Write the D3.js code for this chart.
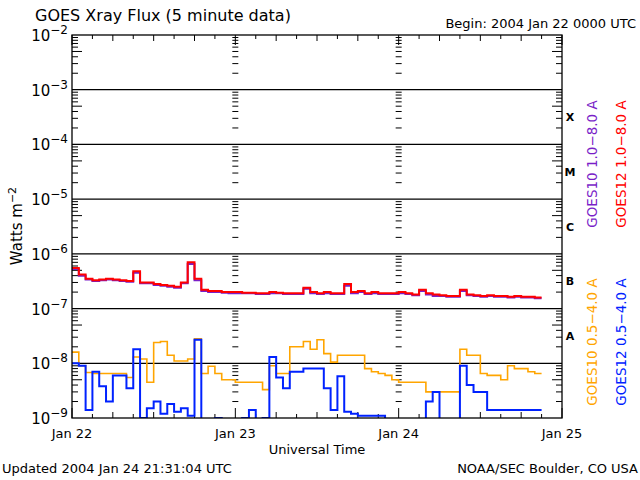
<!DOCTYPE html>
<html><head><meta charset="utf-8">
<script src="https://cdn.jsdelivr.net/npm/d3@7"></script>
<style>body{margin:0;background:#fff}text{font-family:"DejaVu Sans",sans-serif}</style>
</head><body><svg id="c" width="640" height="480"></svg>
<script>
// hours since 2004 Jan 22 00:00 UTC
const hours = d3.range(0, 70);
const goes12Long = [5.5,4.2,3.5,3.3,3.4,3.5,3.4,3.3,3.2,4.8,3.0,3.0,2.8,2.7,2.6,2.5,3.0,7.0,3.5,2.2,2.1,2.1,2.0,2.0,
 2.0,1.95,1.95,1.9,1.9,2.0,1.95,1.9,1.9,1.9,2.4,2.0,1.9,2.0,1.9,1.9,2.8,2.0,2.1,1.9,2.0,1.9,1.9,1.9,
 2.0,1.9,1.8,2.2,1.9,1.8,1.75,1.7,1.7,2.2,1.8,1.75,1.7,1.75,1.7,1.7,1.65,1.7,1.65,1.65,1.6,1.6].map(v=>v*1e-7);
const goes10Long = [5.3,4.0,3.4,3.2,3.3,3.4,3.3,3.2,3.1,4.5,2.9,2.9,2.7,2.6,2.5,2.4,2.9,6.5,3.3,2.1,2.0,2.0,1.95,1.9,
 1.9,1.9,1.9,1.85,1.85,1.9,1.9,1.85,1.85,1.85,2.3,1.9,1.85,1.9,1.85,1.85,2.6,1.9,2.0,1.85,1.9,1.85,1.85,1.85,
 1.9,1.85,1.75,2.1,1.8,1.7,1.7,1.65,1.65,2.1,1.75,1.7,1.65,1.7,1.65,1.65,1.6,1.65,1.6,1.6,1.55,1.55].map(v=>v*1e-7);
const goes10Short = [16,9,6.8,6.5,6.5,6.5,6.5,6.5,5.5,13,12,4.5,24,25,14,11,11,12,28,6.5,8.8,6.5,5,5,
 4.5,4.5,4.5,4.5,3.3,9,6.5,6.5,20,20,25,18,27,15,10.5,14,14,14,14,8,7,6.5,6,5,
 4.5,4.5,4.5,4.5,3,3,3,3,3,18,14,14,6.5,6,6,5,9,8,8,7,6.5,6.5].map(v=>v*1e-9);
const goes12Short = [10,9,1.4,7,3.8,2,6,6,3.5,18,1,1.5,2,1.2,1.8,1.3,1.5,1.1,27,0.9,0.9,1,0.9,0.9,
 0.9,1,1.4,0.9,1,13,5.5,3.5,7,7,8,8,8,3.5,1.4,5.8,1.3,1.2,1.1,1.1,1.1,1.1,0.9,0.9,
 0.9,0.9,0.9,0.9,2,3,0.9,0.9,0.9,9,4,3,3,1.4,1.4,1.4,1.4,1.4,1.4,1.4,1.4,1.4].map(v=>v*1e-9);
const decades = [-2,-3,-4,-5,-6,-7,-8,-9];
const dayLabels = ["Jan 22","Jan 23","Jan 24","Jan 25"];
const classes = ["X","M","C","B","A"];

const svg = d3.select("#c");
const L=72,R=562,T=35,B=418;
const x = d3.scaleLinear().domain([0,72]).range([L,R]);
const y = d3.scaleLog().domain([1e-9,1e-2]).range([B,T]);

[1e-3,1e-4,1e-5,1e-6,1e-7,1e-8].forEach(v=>svg.append("line").attr("x1",L).attr("x2",R).attr("y1",y(v)).attr("y2",y(v)).attr("stroke","#000").attr("stroke-width",1.3));
for(let e=-9;e<-2;e++) for(let m=2;m<=9;m++){
  const yy=y(m*Math.pow(10,e));
  const len = m===5?10:6;
  svg.append("line").attr("x1",L).attr("x2",L+len).attr("y1",yy).attr("y2",yy).attr("stroke","#000");
  svg.append("line").attr("x1",R-len).attr("x2",R).attr("y1",yy).attr("y2",yy).attr("stroke","#000");
  [24,48].forEach(h=>svg.append("line").attr("x1",x(h)-3).attr("x2",x(h)+3).attr("y1",yy).attr("y2",yy).attr("stroke","#000"));
}
for(let h=0;h<=72;h+=3){
  const len = h%24===0?10:(h%6===0?6:4);
  svg.append("line").attr("x1",x(h)).attr("x2",x(h)).attr("y1",B).attr("y2",B-len).attr("stroke","#000");
  svg.append("line").attr("x1",x(h)).attr("x2",x(h)).attr("y1",T).attr("y2",T+len).attr("stroke","#000");
}
svg.append("clipPath").attr("id","cp").append("rect").attr("x",L).attr("y",T).attr("width",R-L).attr("height",B-T);
const g = svg.append("g").attr("clip-path","url(#cp)");
const line = d3.line().x((d,i)=>x(hours[i])).y(d=>y(Math.max(d,8e-10))).curve(d3.curveStepAfter);
[[goes10Short,"#ffa500",1.6],[goes12Short,"#0022ff",2],[goes10Long,"#7a1fc8",2],[goes12Long,"#ff0000",2]].forEach(([s,c,w])=>
  g.append("path").attr("d",line(s)).attr("fill","none").attr("stroke",c).attr("stroke-width",w));
svg.append("rect").attr("x",L).attr("y",T).attr("width",R-L).attr("height",B-T).attr("fill","none").attr("stroke","#000").attr("stroke-width",1.3);

decades.forEach(e=>{
  const t=svg.append("text").attr("x",L-4).attr("y",y(Math.pow(10,e))+6).attr("text-anchor","end").attr("font-size",15);
  t.append("tspan").text("10");
  t.append("tspan").attr("dy",-7).attr("font-size",12).text(String(e).replace("-","\u2212"));
});
const wl=svg.append("text").attr("transform","translate(22,226) rotate(-90)").attr("text-anchor","middle").attr("font-size",15);
wl.append("tspan").text("Watts m");
wl.append("tspan").attr("dy",-6).attr("font-size",11).text("\u22122");
classes.forEach((c,i)=>svg.append("text").attr("x",570).attr("y",y(Math.pow(10,-3.5-i))+4).attr("text-anchor","middle")
 .attr("font-family","Liberation Serif").attr("font-weight","bold").attr("font-size",11).text(c));
dayLabels.forEach((d,i)=>svg.append("text").attr("x",x(i*24)).attr("y",438).attr("text-anchor","middle").attr("font-size",13).text(d));
svg.append("text").attr("x",317).attr("y",454).attr("text-anchor","middle").attr("font-size",13).text("Universal Time");
svg.append("text").attr("x",35).attr("y",21).attr("font-size",16).text("GOES Xray Flux (5 minute data)");
svg.append("text").attr("x",636).attr("y",28).attr("text-anchor","end").attr("font-size",13).text("Begin:  2004 Jan 22 0000 UTC");
svg.append("text").attr("x",2).attr("y",473).attr("font-size",13).text("Updated 2004 Jan 24 21:31:04 UTC");
svg.append("text").attr("x",638).attr("y",473).attr("text-anchor","end").attr("font-size",13).text("NOAA/SEC Boulder, CO USA");
[["GOES10 1.0\u22128.0 A","#7a1fc8",597,164],["GOES12 1.0\u22128.0 A","#ff0000",626,164],
 ["GOES10 0.5\u22124.0 A","#ffa500",597,342],["GOES12 0.5\u22124.0 A","#0022ff",626,342]].forEach(([t,c,xx,yy])=>
 svg.append("text").attr("transform",`translate(${xx},${yy}) rotate(-90)`).attr("text-anchor","middle").attr("fill",c).attr("font-size",13.5).text(t));
</script></body></html>
